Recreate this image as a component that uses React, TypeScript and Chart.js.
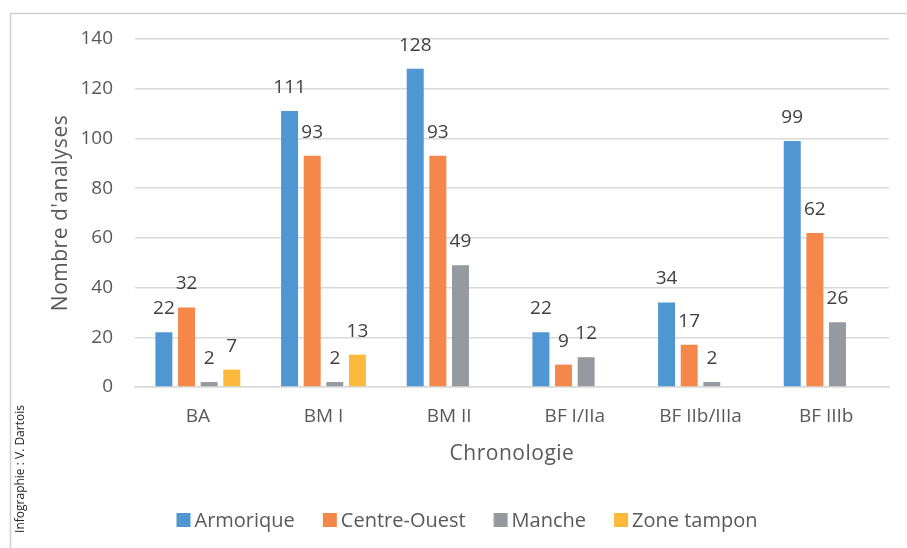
import React, { useEffect, useRef } from "react";
import { Chart, registerables } from "chart.js";

Chart.register(...registerables);

const categories = ["BA", "BM I", "BM II", "BF I/IIa", "BF IIb/IIIa", "BF IIIb"];
const seriesNames = ["Armorique", "Centre-Ouest", "Manche", "Zone tampon"];
const armorique = [22, 111, 128, 22, 34, 99];
const centreOuest = [32, 93, 93, 9, 17, 62];
const manche = [2, 2, 49, 12, 2, 26];
const zoneTampon = [7, 13, null, null, null, null];
const seriesColors = ["#4E97D3", "#F5874A", "#959AA0", "#FDB93C"];
const yTicks = [0, 20, 40, 60, 80, 100, 120, 140];

const FONT = "'Open Sans', 'Noto Sans', sans-serif";

const decorPlugin = {
  id: "decor",
  beforeDraw(chart: any) {
    const ctx = chart.ctx;
    ctx.save();
    ctx.fillStyle = "#ffffff";
    ctx.fillRect(0, 0, chart.width, chart.height);
    ctx.strokeStyle = "#D0D0D0";
    ctx.lineWidth = 1.5;
    ctx.beginPath();
    ctx.moveTo(10.5, chart.height);
    ctx.lineTo(10.5, 13.5);
    ctx.lineTo(chart.width, 13.5);
    ctx.stroke();
    ctx.restore();
  },
  afterDraw(chart: any) {
    const ctx = chart.ctx;
    const area = chart.chartArea;
    ctx.save();
    // axis titles
    ctx.fillStyle = "#595959";
    ctx.font = `21px ${FONT}`;
    (ctx as any).letterSpacing = "0.5px";
    ctx.textAlign = "center";
    ctx.textBaseline = "alphabetic";
    ctx.fillText("Chronologie", (area.left + area.right) / 2, 460);
    ctx.save();
    ctx.translate(67, (area.top + area.bottom) / 2);
    ctx.rotate(-Math.PI / 2);
    ctx.fillText("Nombre d'analyses", 0, 0);
    ctx.restore();
    // credit
    (ctx as any).letterSpacing = "0px";
    ctx.fillStyle = "#262626";
    ctx.font = `12px ${FONT}`;
    ctx.save();
    ctx.translate(24, 469);
    ctx.rotate(-Math.PI / 2);
    ctx.fillText("Infographie : V. Dartois", 0, 0);
    ctx.restore();
    // legend
    ctx.font = `20px ${FONT}`;
    ctx.textAlign = "left";
    ctx.textBaseline = "middle";
    const box = 14;
    const gapText = 4;
    const gapItem = 28;
    const widths = seriesNames.map((n) => ctx.measureText(n).width);
    const total =
      widths.reduce((a, w) => a + box + gapText + w, 0) + gapItem * (seriesNames.length - 1);
    let x = 467 - total / 2;
    const cy = 520;
    seriesNames.forEach((n, i) => {
      ctx.fillStyle = seriesColors[i];
      ctx.fillRect(x, cy - box / 2, box, box);
      ctx.fillStyle = "#595959";
      ctx.fillText(n, x + box + gapText, cy + 1);
      x += box + gapText + widths[i] + gapItem;
    });
    ctx.restore();
  },
  afterDatasetsDraw(chart: any) {
    const ctx = chart.ctx;
    ctx.save();
    ctx.fillStyle = "#404040";
    ctx.font = `19px ${FONT}`;
    ctx.textAlign = "center";
    ctx.textBaseline = "alphabetic";
    chart.data.datasets.forEach((ds: any, di: number) => {
      const meta = chart.getDatasetMeta(di);
      meta.data.forEach((el: any, i: number) => {
        const v = ds.data[i];
        if (v === null || v === undefined) return;
        ctx.fillText(String(v), el.x, el.y - 18);
      });
    });
    ctx.restore();
  },
};

export default function App() {
  const ref = useRef<HTMLCanvasElement | null>(null);
  useEffect(() => {
    document.body.style.margin = "0";
    if (!ref.current) return;
    const data = [armorique, centreOuest, manche, zoneTampon];
    const chart = new Chart(ref.current, {
      type: "bar",
      data: {
        labels: categories,
        datasets: seriesNames.map((name, i) => ({
          label: name,
          data: data[i] as any,
          backgroundColor: seriesColors[i],
          borderWidth: 0,
          categoryPercentage: 0.72,
          barPercentage: 0.75,
        })),
      },
      options: {
        responsive: false,
        animation: false,
        layout: { padding: { left: 0, top: 39, right: 18, bottom: 111 } },
        plugins: {
          legend: { display: false },
          tooltip: { enabled: false },
          title: { display: false },
        },
        scales: {
          y: {
            min: 0,
            max: 140,
            afterFit(scale: any) {
              scale.width = 135;
            },
            afterBuildTicks(scale: any) {
              scale.ticks = yTicks.map((v) => ({ value: v }));
            },
            ticks: {
              color: "#595959",
              font: { family: FONT, size: 19 },
              padding: 22,
            },
            grid: { color: "#D9D9D9", lineWidth: 1.5, drawTicks: false },
            border: { display: false },
          },
          x: {
            afterFit(scale: any) {
              scale.height = 50;
            },
            ticks: {
              color: "#595959",
              font: { family: FONT, size: 19 },
              padding: 18,
            },
            grid: { display: false, drawTicks: false },
            border: { display: true, color: "#D9D9D9", width: 1.5 },
          },
        },
      },
      plugins: [decorPlugin],
    });
    return () => chart.destroy();
  }, []);
  return <canvas ref={ref} width={907} height={548} style={{ display: "block" }} />;
}
